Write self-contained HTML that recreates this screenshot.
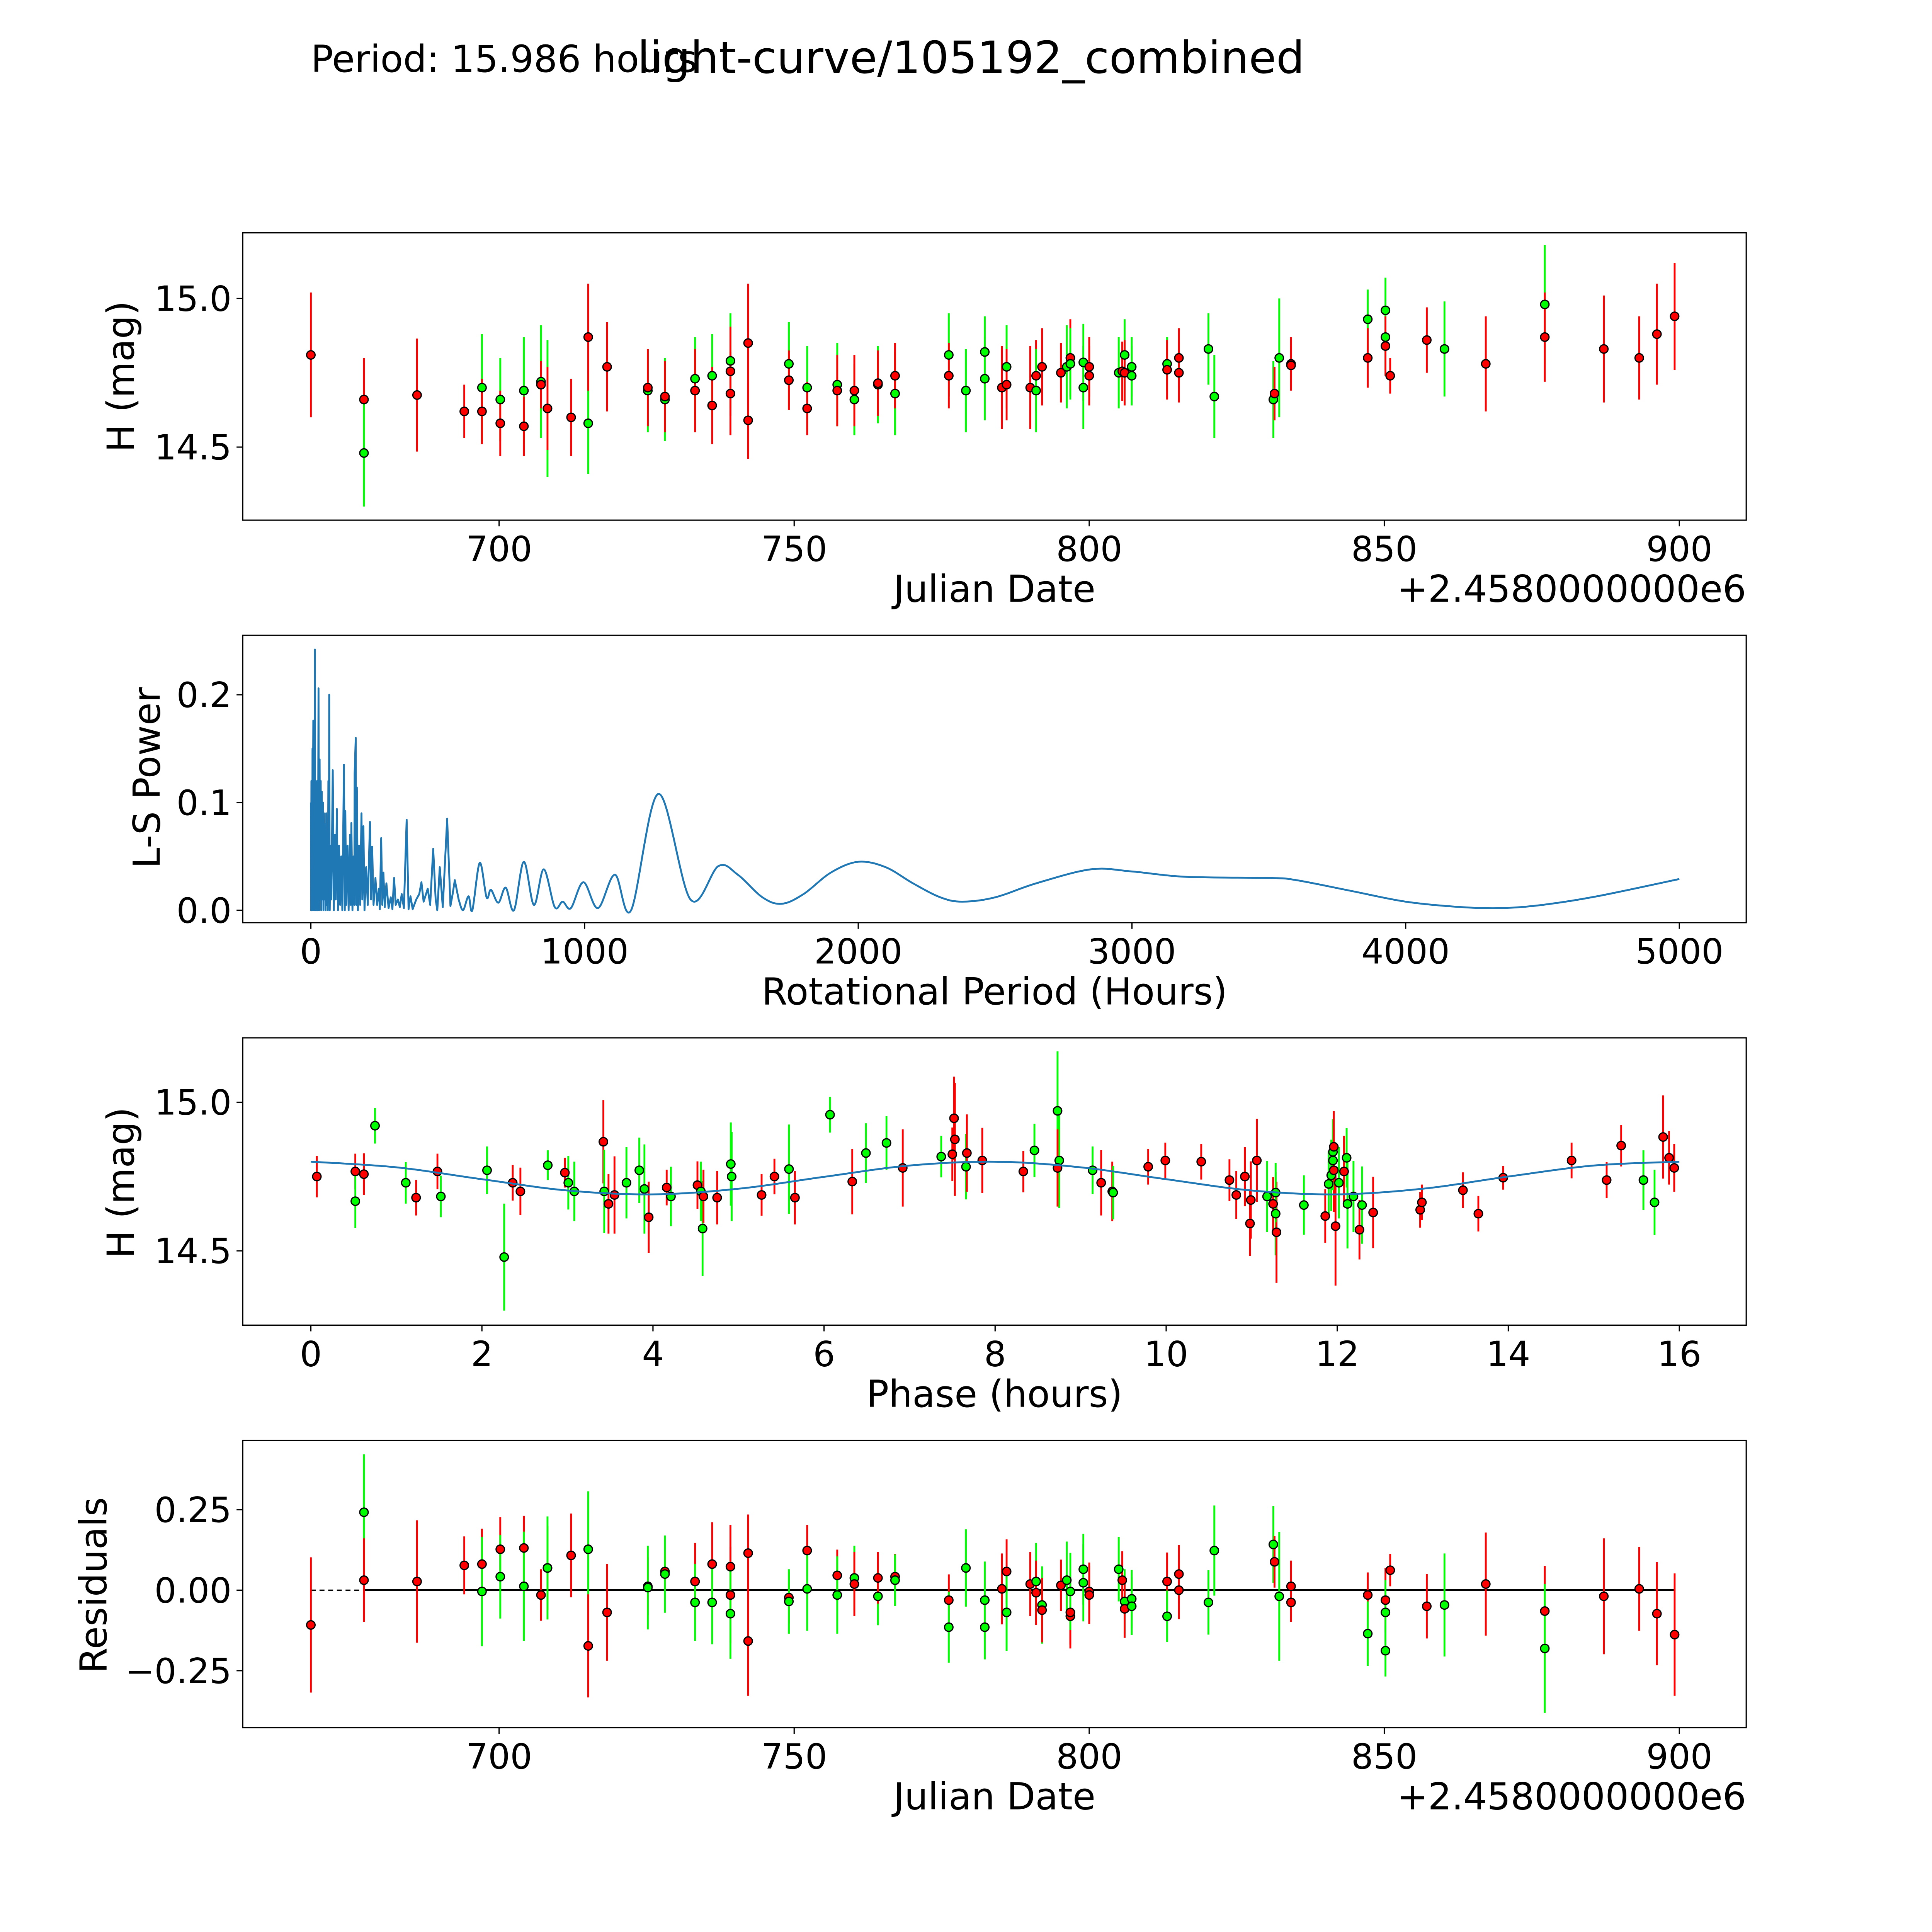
<!DOCTYPE html>
<html><head><meta charset="utf-8"><style>
html,body{margin:0;padding:0;background:#fff;overflow:hidden;width:100%;height:100%;}
svg{display:block;position:fixed;left:0;top:0;width:100vw;height:100vh;}
text{font-family:"DejaVu Sans","Liberation Sans",sans-serif;fill:#000;}
</style></head><body>
<svg id="fig" viewBox="0 0 1560 1560" preserveAspectRatio="xMinYMin meet" xmlns="http://www.w3.org/2000/svg">
<rect width="1560" height="1560" fill="#fff"/>
<text x="251" y="58" font-size="30">Period: 15.986 hours</text>
<text x="784" y="59" font-size="36" text-anchor="middle">light-curve/105192_combined</text>
<g id="root"></g>
</svg>
<script>
// ---------- data: light curve (top) ----------
const lcDate=[668.1,677.1,677.1,686.1,694.1,697.1,697.1,700.2,700.2,704.2,704.2,707.1,707.1,708.2,708.2,712.2,715.1,715.1,718.3,725.2,725.2,728.1,728.1,733.2,733.2,736.1,736.1,739.2,739.2,739.2,742.2,742.2,749.1,749.1,752.2,752.2,757.3,757.3,760.2,760.2,764.2,764.2,767.1,767.1,776.2,776.2,779.1,782.3,782.3,785.2,786.0,786.0,790.0,791.0,791.0,792.0,795.2,796.2,796.8,796.8,799.0,799.0,800.0,800.0,805.0,805.6,806.0,806.0,807.2,807.2,813.2,813.2,815.2,815.2,820.2,821.2,831.2,831.4,832.2,834.2,834.2,847.2,847.2,850.2,850.2,850.2,851.0,857.2,860.2,867.2,877.2,877.2,887.2,893.2,896.2,899.2];
const lcMag=[14.81,14.66,14.48,14.675,14.62,14.70,14.62,14.66,14.58,14.69,14.57,14.72,14.71,14.63,14.63,14.60,14.58,14.87,14.77,14.69,14.70,14.66,14.67,14.73,14.69,14.74,14.64,14.79,14.755,14.68,14.85,14.59,14.78,14.725,14.70,14.63,14.71,14.69,14.66,14.69,14.71,14.715,14.68,14.74,14.81,14.74,14.69,14.82,14.73,14.70,14.77,14.71,14.70,14.74,14.69,14.77,14.75,14.77,14.80,14.78,14.785,14.70,14.77,14.74,14.75,14.755,14.81,14.75,14.77,14.74,14.78,14.76,14.80,14.75,14.83,14.67,14.66,14.68,14.80,14.78,14.775,14.93,14.80,14.96,14.87,14.84,14.74,14.86,14.83,14.78,14.98,14.87,14.83,14.80,14.88,14.94];
const lcErr=[0.21,0.14,0.18,0.19,0.09,0.18,0.11,0.14,0.11,0.18,0.10,0.19,0.08,0.23,0.14,0.13,0.17,0.18,0.15,0.14,0.13,0.14,0.12,0.14,0.14,0.14,0.13,0.16,0.15,0.14,0.20,0.13,0.14,0.10,0.14,0.09,0.14,0.12,0.12,0.12,0.13,0.11,0.14,0.11,0.14,0.11,0.14,0.12,0.14,0.14,0.14,0.12,0.14,0.12,0.14,0.13,0.10,0.14,0.13,0.12,0.13,0.14,0.10,0.10,0.12,0.10,0.12,0.11,0.10,0.10,0.09,0.10,0.10,0.10,0.12,0.14,0.13,0.09,0.20,0.09,0.07,0.10,0.10,0.11,0.11,0.10,0.06,0.11,0.16,0.16,0.20,0.15,0.18,0.14,0.17,0.18];
const lcBand=("rrgrrgrgrg"+"rgrgrrgrrg"+"rgrgrgrgrr"+"rrgrgrgrgr"+"grgrgrgggr"+"grrrgrrgrg"+"ggrrgrgrgg"+"grrrgggrgr"+"rgrggrrrgr"+"grrrrr").split("");
const jdTicks=[700,750,800,850,900];
const magTicks=[14.5,15.0];
// ---------- data: periodogram ----------
const lsPeriod=[0,1,2,3,4,5,6,7,8,9,10,11,12,13,14,15,16,17,18,19,20,21,22,23,24,25,26,28,30,32,34,36,38,40,42,44,46,48,50,52,54,56,58,60,62,64,66,67,69,72,75,80,84,88,91,95,99,103,107,111,115,121,124,126,129,134,138,143,146,148,152,156,159,160,164,166,168,172,176,180,185,188,192,196,202,208,216,220,224,229,236,242,248,252,257,261,265,270,276,284,292,298,304,310,318,325,332,340,350,357,364,372,385,396,404,412,427,436,447,456,462,471,482,498,510,518,526,540,556,576,590,617,642,658,685,712,742,778,815,851,891,920,950,996,1049,1111,1170,1270,1387,1489,1560,1650,1720,1800,1900,2000,2100,2200,2300,2380,2500,2650,2850,3000,3200,3500,3600,3800,4000,4200,4350,4500,4700,5000];
const lsPower=[0.10,0.0,0.12,0.0,0.11,0.01,0.15,0,0.12,0.176,0.02,0.13,0,0.1,0.01,0.242,0,0.12,0.02,0.10,0,0.09,0.01,0.12,0,0.11,0.02,0.206,0,0.14,0.01,0.12,0,0.11,0.01,0.1,0,0.09,0.01,0.08,0,0.09,0.005,0.07,0,0.12,0.02,0.2,0,0.06,0.01,0.13,0,0.07,0.01,0.094,0,0.06,0.005,0.05,0,0.135,0,0.092,0.005,0.06,0,0.07,0.005,0.081,0,0.05,0.005,0.127,0.16,0.005,0.114,0,0.06,0.005,0.09,0.01,0.078,0,0.04,0.005,0.082,0.01,0.059,0.005,0.03,0.005,0.02,0.001,0.067,0.005,0.035,0.003,0.025,0.002,0.012,0.001,0.03,0.005,0.01,0.003,0.015,0.002,0.084,0.001,0.013,0.001,0.01,0.015,0.026,0.008,0.02,0.005,0.057,0.01,0.0,0.04,0.003,0.085,0.004,0.015,0.028,0.01,0.0,0.013,0.0,0.044,0.012,0.019,0.007,0.021,0.0,0.045,0.005,0.038,0.003,0.008,0.002,0.026,0.002,0.033,0.0,0.108,0.01,0.041,0.033,0.012,0.006,0.015,0.035,0.045,0.04,0.025,0.012,0.008,0.012,0.025,0.038,0.036,0.031,0.03,0.028,0.018,0.008,0.003,0.002,0.005,0.013,0.029];
const periodTicks=[0,1000,2000,3000,4000,5000];
const powerTicks=[0.0,0.1,0.2];
// ---------- data: phased ----------
const phPhase=[0.07,0.52,0.52,0.62,0.75,1.11,1.23,1.48,1.52,2.06,2.36,2.26,2.45,2.77,2.97,3.01,3.08,3.42,3.43,3.48,3.55,3.69,3.84,3.90,3.95,4.16,4.21,4.52,4.56,4.58,4.59,4.75,4.91,4.92,5.27,5.42,5.59,5.66,6.07,6.33,6.49,6.73,6.92,7.37,7.50,7.52,7.53,7.66,7.67,7.85,8.33,8.46,8.73,8.75,8.73,9.14,9.24,9.37,9.38,9.79,9.99,10.41,10.74,10.82,10.92,10.98,10.99,11.06,11.18,11.25,11.28,11.29,11.28,11.61,11.86,11.90,11.93,11.96,11.95,11.95,11.96,11.98,12.02,12.08,12.11,12.12,12.19,12.26,12.29,12.42,12.97,12.99,13.47,13.65,13.94,14.74,15.15,15.32,15.58,15.71,15.81,15.88,15.94];
const phMag=[14.75,14.767,14.667,14.758,14.921,14.729,14.679,14.767,14.683,14.771,14.729,14.479,14.70,14.788,14.763,14.729,14.70,14.867,14.70,14.658,14.688,14.729,14.771,14.708,14.613,14.713,14.683,14.721,14.70,14.575,14.683,14.679,14.792,14.75,14.688,14.75,14.775,14.679,14.958,14.733,14.829,14.863,14.779,14.817,14.825,14.946,14.875,14.783,14.829,14.804,14.767,14.838,14.971,14.804,14.779,14.771,14.729,14.70,14.696,14.783,14.804,14.80,14.738,14.688,14.75,14.592,14.671,14.804,14.683,14.658,14.625,14.5625,14.696,14.654,14.617,14.725,14.754,14.771,14.804,14.833,14.85,14.583,14.729,14.767,14.813,14.658,14.683,14.571,14.654,14.629,14.638,14.663,14.704,14.625,14.746,14.804,14.738,14.854,14.738,14.663,14.883,14.813,14.779];
const phErr=[0.07,0.06,0.09,0.07,0.06,0.07,0.06,0.06,0.07,0.08,0.06,0.18,0.08,0.05,0.05,0.09,0.10,0.14,0.14,0.10,0.13,0.12,0.11,0.15,0.12,0.06,0.10,0.08,0.10,0.16,0.09,0.09,0.14,0.15,0.07,0.06,0.15,0.09,0.06,0.11,0.10,0.09,0.13,0.07,0.09,0.14,0.19,0.11,0.13,0.11,0.07,0.09,0.20,0.16,0.13,0.08,0.11,0.10,0.09,0.06,0.06,0.06,0.07,0.08,0.10,0.11,0.13,0.14,0.12,0.09,0.14,0.17,0.10,0.10,0.09,0.11,0.12,0.14,0.10,0.11,0.12,0.20,0.12,0.12,0.10,0.15,0.12,0.10,0.13,0.12,0.06,0.06,0.06,0.06,0.04,0.06,0.06,0.07,0.10,0.11,0.14,0.09,0.08];
const phBand=("rrgrggrrgg"+"rgrgrggrgr"+"rgggrrgrgg"+"rrggrrgrgr"+"ggrgrrrgrr"+"rgggrgrrgr"+"rrrrrrrrgr"+"grggrggrgg"+"rrgrgggrgr"+"rrrrrrrrgg"+"rrr").split("");
const fitPhase=[0,1,2,3,4,5,6,7,8,9,10,11,12,13,14,15,16];
const fitMag=[14.80,14.781,14.741,14.703,14.690,14.709,14.749,14.787,14.800,14.781,14.741,14.703,14.690,14.709,14.750,14.787,14.800];
const phaseTicks=[0,2,4,6,8,10,12,14,16];
// ---------- data: residuals ----------
const rsDate=[668.1,677.1,677.1,686.1,694.1,697.1,697.1,700.2,700.2,704.2,704.2,707.1,708.2,708.2,712.2,715.1,715.1,718.3,725.2,725.2,728.1,728.1,733.2,733.2,736.1,736.1,739.2,739.2,739.2,742.2,742.2,749.1,749.1,752.2,752.2,757.3,757.3,760.2,760.2,764.2,764.2,767.1,767.1,776.2,776.2,779.1,782.3,782.3,785.2,786.0,786.0,790.0,791.0,791.0,792.0,792.0,795.2,796.2,796.8,796.8,796.8,799.0,799.0,800.0,800.0,805.0,805.6,806.0,806.0,807.2,807.2,813.2,813.2,815.2,815.2,820.2,821.2,831.2,831.4,832.2,834.2,834.2,847.2,847.2,850.2,850.2,850.2,851.0,857.2,860.2,867.2,877.2,877.2,887.2,893.2,896.2,899.2];
const rsVal=[-0.108,0.242,0.031,0.027,0.077,0.081,-0.004,0.127,0.042,0.131,0.012,-0.015,0.069,0.069,0.108,0.127,-0.173,-0.069,0.012,0.008,0.058,0.05,0.027,-0.038,0.081,-0.038,0.073,-0.015,-0.073,0.115,-0.158,-0.023,-0.035,0.123,0.004,0.046,-0.015,0.038,0.019,-0.019,0.038,0.042,0.031,-0.031,-0.115,0.069,-0.031,-0.115,0.004,0.058,-0.069,0.019,0.027,-0.008,-0.046,-0.062,0.015,0.031,-0.081,-0.069,-0.004,0.065,0.023,-0.004,-0.015,0.065,0.031,-0.035,-0.058,-0.027,-0.05,0.027,-0.081,0.05,0.0,-0.038,0.123,0.142,0.088,-0.019,0.012,-0.038,-0.015,-0.135,-0.031,-0.069,-0.188,0.062,-0.05,-0.046,0.019,-0.065,-0.181,-0.019,0.004,-0.073,-0.138];
const rsErr=[0.21,0.18,0.13,0.19,0.09,0.11,0.17,0.10,0.13,0.10,0.17,0.08,0.13,0.16,0.13,0.18,0.16,0.15,0.09,0.13,0.06,0.12,0.12,0.12,0.13,0.13,0.13,0.15,0.14,0.12,0.17,0.08,0.10,0.08,0.13,0.08,0.12,0.10,0.10,0.09,0.08,0.07,0.08,0.08,0.11,0.12,0.12,0.10,0.11,0.10,0.12,0.10,0.12,0.10,0.12,0.10,0.08,0.12,0.10,0.10,0.12,0.11,0.12,0.09,0.09,0.10,0.09,0.10,0.09,0.09,0.09,0.09,0.08,0.09,0.09,0.10,0.14,0.12,0.08,0.20,0.08,0.06,0.07,0.10,0.10,0.10,0.08,0.05,0.10,0.16,0.16,0.14,0.20,0.18,0.13,0.16,0.19];
const rsBand=("rgrrrrgrgr"+"grrgrgrrrg"+"rgrgrgrrgr"+"rrgrgrggrg"+"rrgrggggrr"+"grgrgrrgrr"+"gggrrgrgrg"+"grgrrgggrg"+"rrrgrggrrg"+"rrgrrrr").split("");
const resTicks=[-0.25,0.0,0.25];

const NS="http://www.w3.org/2000/svg";
const root=document.getElementById('root');
const RED="#ff0000", GREEN="#00ff00", BLUE="#1f77b4";
function el(tag,attrs,parent){const e=document.createElementNS(NS,tag);for(const k in attrs)e.setAttribute(k,attrs[k]);(parent||root).appendChild(e);return e;}
function lin(d0,d1,p0,p1){return v=>p0+(v-d0)*(p1-p0)/(d1-d0);}

const L=196,R=1410;
function frame(name){
  const g=el('g',{});
  
  
  return g;
}
function border(g,top,bot){el('rect',{x:L,y:top,width:R-L,height:bot-top,fill:'none',stroke:'#000','stroke-width':1},g);}
function xTicks(g,vals,sx,bot,fmt,name){
  vals.forEach(v=>{const x=sx(v);
    const t=el('line',{x1:x,x2:x,y1:bot,y2:bot+5,stroke:'#000','stroke-width':1},g);
    
    
    const tx=el('text',{x:x,y:bot+33,'font-size':28,'text-anchor':'middle'},g);tx.textContent=fmt(v);
    
    });
}
function yTicks(g,vals,sy,fmt,name){
  vals.forEach(v=>{const y=sy(v);
    const t=el('line',{x1:L-5,x2:L,y1:y,y2:y,stroke:'#000','stroke-width':1},g);
    
    
    const tx=el('text',{x:L-9,y:y+10,'font-size':28,'text-anchor':'end'},g);tx.textContent=fmt(v);
    
    });
}
function label(g,txt,x,y,rot,name,anchor){
  const t=el('text',{x:x,y:y,'font-size':30,'text-anchor':anchor||'middle'},g);
  if(rot)t.setAttribute('transform',`rotate(-90 ${x} ${y})`);
  t.textContent=txt;
  
  
}
function errPoints(g,xs,ys,es,bands,sx,sy,name){
  xs.forEach((xv,i)=>{const x=sx(xv),c=bands[i]==='r'?RED:GREEN;
    const b=el('line',{x1:x,x2:x,y1:sy(ys[i]-es[i]),y2:sy(ys[i]+es[i]),stroke:c,'stroke-width':1.5},g);
    
    });
  xs.forEach((xv,i)=>{const c=bands[i]==='r'?RED:GREEN;
    const p=el('circle',{cx:sx(xv),cy:sy(ys[i]),r:3.4,fill:c,stroke:'#000','stroke-width':1},g);
    
    });
}
function catmull(pts){let d=`M${pts[0][0]},${pts[0][1]}`;
  for(let i=0;i<pts.length-1;i++){const p0=pts[Math.max(i-1,0)],p1=pts[i],p2=pts[i+1],p3=pts[Math.min(i+2,pts.length-1)];
    d+=` C${p1[0]+(p2[0]-p0[0])/6},${p1[1]+(p2[1]-p0[1])/6} ${p2[0]-(p3[0]-p1[0])/6},${p2[1]-(p3[1]-p1[1])/6} ${p2[0]},${p2[1]}`;}
  return d;}
const jdFmt=v=>String(v);

// Panel 1
{const top=188,bot=420,g=frame('light-curve-panel');
 const sx=lin(700,900,403,1356), sy=lin(15.0,14.5,241,361);
 errPoints(g,lcDate,lcMag,lcErr,lcBand,sx,sy,'light-curve');
 border(g,top,bot);
 xTicks(g,jdTicks,sx,bot,jdFmt,'x-axis-date');
 yTicks(g,magTicks,sy,v=>v.toFixed(1),'y-axis-mag');
 label(g,'Julian Date',803,486,false,'x-axis-title-date');
 label(g,'+2.4580000000e6',1410,486,false,'x-axis-offset','end');
 label(g,'H (mag)',108,304,true,'y-axis-title-mag');}
// Panel 2
{const top=513,bot=745,g=frame('periodogram-panel');
 const sx=lin(0,5000,251,1356), sy=lin(0,0.1,735,648);
 let d='';const spikeEnd=lsPeriod.findIndex(p=>p>=540);
 for(let i=0;i<=spikeEnd;i++)d+=(i?'L':'M')+sx(lsPeriod[i])+','+sy(lsPower[i])+' ';
 const pts=[];for(let i=spikeEnd;i<lsPeriod.length;i++)pts.push([sx(lsPeriod[i]),sy(lsPower[i])]);
 d+=catmull(pts).replace(/^M[^ ]+/,'');
 const p=el('path',{d:d,fill:'none',stroke:BLUE,'stroke-width':1.5,'stroke-linejoin':'round'},g);
 
 
 border(g,top,bot);
 xTicks(g,periodTicks,sx,bot,v=>String(v),'x-axis-period');
 yTicks(g,powerTicks,sy,v=>v.toFixed(1),'y-axis-power');
 label(g,'Rotational Period (Hours)',803,811,false,'x-axis-title-period');
 label(g,'L-S Power',129,628,true,'y-axis-title-power');}
// Panel 3
{const top=838,bot=1070,g=frame('phased-panel');
 const sx=lin(0,16,251,1356), sy=lin(15.0,14.5,890,1010);
 errPoints(g,phPhase,phMag,phErr,phBand,sx,sy,'phased');
 const p=el('path',{d:catmull(fitPhase.map((v,i)=>[sx(v),sy(fitMag[i])])),fill:'none',stroke:BLUE,'stroke-width':1.5},g);
 
 
 border(g,top,bot);
 xTicks(g,phaseTicks,sx,bot,v=>String(v),'x-axis-phase');
 yTicks(g,magTicks,sy,v=>v.toFixed(1),'y-axis-phase-mag');
 label(g,'Phase (hours)',803,1136,false,'x-axis-title-phase');
 label(g,'H (mag)',108,955,true,'y-axis-title-phase-mag');}
// Panel 4
{const top=1163,bot=1395,g=frame('residuals-panel');
 const sx=lin(700,900,403,1356), sy=lin(0,0.25,1284,1219);
 const z1=el('line',{x1:sx(668.1),x2:sx(677.1),y1:sy(0),y2:sy(0),stroke:'#000','stroke-width':1,'stroke-dasharray':'4,3'},g);
 
 
 const z2=el('line',{x1:sx(677.1),x2:sx(899.2),y1:sy(0),y2:sy(0),stroke:'#000','stroke-width':1.5},g);
 
 
 errPoints(g,rsDate,rsVal,rsErr,rsBand,sx,sy,'residual');
 border(g,top,bot);
 xTicks(g,jdTicks,sx,bot,jdFmt,'x-axis-res-date');
 yTicks(g,resTicks,sy,v=>(v<0?'\u2212':'')+Math.abs(v).toFixed(2),'y-axis-residual');
 label(g,'Julian Date',803,1461,false,'x-axis-title-res-date');
 label(g,'+2.4580000000e6',1410,1461,false,'x-axis-res-offset','end');
 label(g,'Residuals',86,1280,true,'y-axis-title-residuals');}
</script>
</body></html>
